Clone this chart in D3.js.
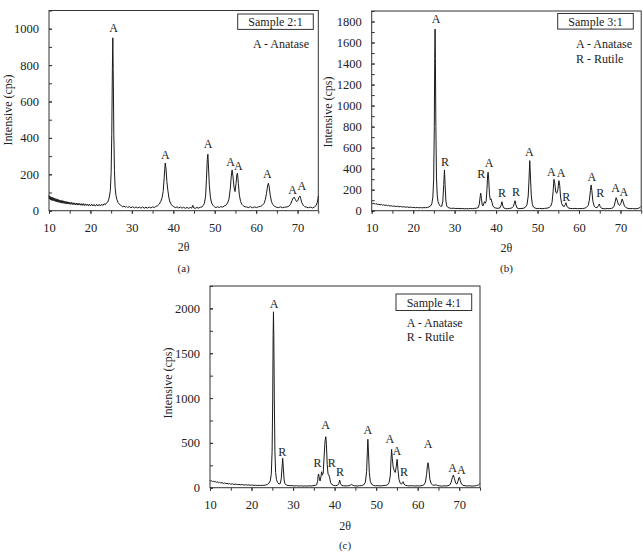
<!DOCTYPE html>
<html>
<head>
<meta charset="utf-8">
<script src="https://cdn.jsdelivr.net/npm/d3@7"></script>
<style>
  body { margin: 0; background: #fff; }
  svg text { font-family: "Liberation Serif", "Times New Roman", serif; fill: #222; }
</style>
</head>
<body>
<svg id="svg" width="643" height="553"></svg>
<script>
// X-ray diffraction patterns, [2theta, cps]
const patternA = [[10.0,84],[10.1,64],[10.25,79],[10.4,60],[10.5,76],[10.65,57],[10.8,73],[10.95,55],[11.1,71],[11.25,53],[11.4,68],[11.55,51],[11.7,66],[11.85,49],[12.0,63],[12.15,47],[12.3,61],[12.45,45],[12.6,59],[12.75,44],[12.9,57],[13.05,42],[13.2,56],[13.35,41],[13.5,54],[13.65,40],[13.8,52],[13.95,39],[14.1,51],[14.25,38],[14.4,49],[14.55,37],[14.7,48],[14.85,36],[15.0,47],[15.2,35],[15.4,46],[15.6,34],[15.8,44],[16.0,33],[16.2,43],[16.4,32],[16.6,42],[16.8,31],[17.0,41],[17.2,31],[17.4,40],[17.6,30],[17.8,39],[18.0,29],[18.25,39],[18.5,28],[18.75,38],[19.0,28],[19.25,37],[19.5,27],[19.75,36],[20.0,26],[20.3,36],[20.6,26],[20.9,35],[21.2,25],[21.5,35],[21.8,26],[22.1,35],[22.4,26],[22.7,36],[23.0,28],[23.3,38],[23.6,33],[23.9,44],[24.2,48],[24.5,68],[24.8,110],[25.0,210],[25.15,420],[25.3,780],[25.4,950],[25.5,770],[25.65,420],[25.8,220],[25.95,130],[26.15,85],[26.4,60],[26.65,46],[26.9,38],[27.2,31],[27.5,27],[27.8,21],[28.1,26],[28.4,19],[28.7,24],[29.0,17],[29.4,23],[29.8,16],[30.2,22],[30.6,15],[31.0,21],[31.4,15],[31.8,20],[32.2,14],[32.6,20],[33.0,14],[33.4,19],[33.8,14],[34.2,20],[34.6,15],[35.0,21],[35.4,17],[35.8,24],[36.2,27],[36.6,36],[37.0,52],[37.3,72],[37.55,105],[37.8,180],[38.05,262],[38.25,230],[38.45,160],[38.7,110],[38.95,70],[39.2,48],[39.5,35],[39.8,26],[40.1,22],[40.5,17],[40.9,21],[41.3,15],[41.7,20],[42.1,14],[42.5,19],[42.9,13],[43.3,18],[43.7,13],[44.1,18],[44.45,14],[44.7,30],[44.95,15],[45.3,13],[45.7,18],[46.1,14],[46.5,19],[46.9,20],[47.2,28],[47.5,40],[47.8,80],[48.0,170],[48.2,280],[48.35,310],[48.5,240],[48.7,140],[48.95,75],[49.25,42],[49.55,30],[49.9,22],[50.3,17],[50.7,22],[51.1,17],[51.5,23],[51.9,19],[52.3,26],[52.7,30],[53.1,42],[53.45,65],[53.75,120],[54.0,190],[54.2,224],[54.4,190],[54.65,130],[54.9,105],[55.15,150],[55.35,200],[55.5,206],[55.7,150],[55.95,85],[56.25,50],[56.55,35],[56.9,27],[57.3,21],[57.7,21],[58.1,17],[58.6,22],[59.1,16],[59.6,21],[60.1,17],[60.6,22],[61.1,24],[61.5,30],[61.9,40],[62.2,60],[62.5,95],[62.75,135],[62.95,151],[63.15,130],[63.4,85],[63.7,50],[64.0,34],[64.4,25],[64.9,19],[65.4,17],[65.9,21],[66.4,16],[66.9,20],[67.4,20],[67.9,25],[68.3,35],[68.65,55],[68.95,70],[69.2,74],[69.45,62],[69.75,50],[70.05,55],[70.3,72],[70.55,81],[70.75,68],[71.0,45],[71.35,30],[71.7,22],[72.1,20],[72.6,16],[73.1,20],[73.6,15],[74.1,21],[74.45,28],[74.75,45],[74.92,65],[75.0,80]];

const patternB = [[10.0,75],[10.2,66],[10.4,72],[10.6,63],[10.8,69],[11.0,61],[11.25,66],[11.5,58],[11.75,63],[12.0,55],[12.3,60],[12.6,52],[12.9,57],[13.2,49],[13.5,54],[13.8,47],[14.1,51],[14.4,44],[14.7,48],[15.0,42],[15.4,45],[15.8,39],[16.2,43],[16.6,37],[17.0,40],[17.4,35],[17.8,38],[18.2,33],[18.6,36],[19.0,31],[19.4,34],[19.8,30],[20.2,32],[20.6,28],[21.0,31],[21.4,27],[21.8,30],[22.2,27],[22.6,30],[23.0,28],[23.4,31],[23.8,35],[24.2,45],[24.5,65],[24.75,130],[24.95,300],[25.1,800],[25.2,1450],[25.28,1728],[25.36,1450],[25.48,800],[25.62,320],[25.8,150],[26.0,85],[26.3,55],[26.6,42],[26.9,42],[27.15,90],[27.38,250],[27.55,388],[27.7,250],[27.9,90],[28.1,45],[28.4,30],[28.8,25],[29.3,22],[29.8,24],[30.3,20],[30.8,22],[31.3,19],[31.8,21],[32.3,18],[32.8,20],[33.3,18],[33.8,21],[34.3,19],[34.8,22],[35.3,24],[35.7,30],[35.95,60],[36.15,130],[36.3,166],[36.45,120],[36.65,55],[36.85,45],[37.05,70],[37.2,86],[37.4,70],[37.6,90],[37.8,200],[37.95,330],[38.08,366],[38.22,300],[38.4,160],[38.6,105],[38.8,112],[39.0,80],[39.25,45],[39.55,30],[39.95,25],[40.45,22],[40.95,28],[41.2,50],[41.42,86],[41.62,45],[41.9,25],[42.3,20],[42.8,19],[43.3,22],[43.8,26],[44.15,40],[44.4,70],[44.58,95],[44.78,55],[45.05,26],[45.5,19],[46.0,21],[46.5,22],[47.0,30],[47.45,55],[47.75,140],[47.98,330],[48.12,476],[48.28,330],[48.5,140],[48.75,60],[49.0,35],[49.4,25],[49.9,20],[50.5,22],[51.1,19],[51.7,22],[52.3,24],[52.8,30],[53.2,45],[53.5,80],[53.75,180],[53.95,299],[54.15,260],[54.4,175],[54.65,166],[54.9,200],[55.15,286],[55.35,240],[55.55,130],[55.8,70],[56.1,45],[56.45,40],[56.7,60],[56.85,76],[57.05,45],[57.35,28],[57.8,22],[58.4,20],[59.0,22],[59.6,19],[60.2,21],[60.8,20],[61.4,24],[61.8,32],[62.2,50],[62.5,100],[62.75,190],[62.92,245],[63.1,190],[63.35,90],[63.65,45],[64.0,30],[64.4,30],[64.7,50],[64.9,64],[65.1,40],[65.4,24],[65.8,20],[66.3,18],[66.8,21],[67.3,19],[67.8,22],[68.2,28],[68.5,45],[68.75,90],[68.95,124],[69.2,100],[69.5,60],[69.8,50],[70.1,70],[70.4,111],[70.65,85],[70.95,45],[71.3,30],[71.8,22],[72.3,19],[72.9,21],[73.5,18],[74.0,20],[74.4,24],[74.7,30],[74.9,38],[75.0,42]];

const patternC = [[10.0,82],[10.2,72],[10.4,78],[10.6,68],[10.8,74],[11.0,64],[11.25,70],[11.5,60],[11.75,65],[12.0,56],[12.3,61],[12.6,52],[12.9,57],[13.2,48],[13.5,53],[13.8,45],[14.1,49],[14.4,42],[14.7,46],[15.0,39],[15.4,43],[15.8,36],[16.2,40],[16.6,34],[17.0,37],[17.4,32],[17.8,35],[18.2,30],[18.6,33],[19.0,28],[19.4,31],[19.8,27],[20.2,30],[20.6,25],[21.0,28],[21.4,24],[21.8,27],[22.2,24],[22.6,27],[23.0,26],[23.4,30],[23.8,36],[24.2,50],[24.5,75],[24.75,150],[24.95,400],[25.1,1000],[25.2,1700],[25.28,1962],[25.36,1700],[25.48,1000],[25.63,400],[25.8,170],[26.0,90],[26.3,55],[26.6,42],[26.9,45],[27.15,100],[27.35,230],[27.5,328],[27.65,220],[27.85,85],[28.05,45],[28.35,30],[28.8,25],[29.3,22],[29.8,24],[30.3,20],[30.8,22],[31.3,19],[31.8,21],[32.3,18],[32.8,20],[33.3,18],[33.8,21],[34.3,19],[34.8,22],[35.3,25],[35.65,32],[35.9,70],[36.05,140],[36.15,153],[36.3,110],[36.5,75],[36.7,120],[36.88,178],[37.05,140],[37.25,160],[37.45,330],[37.7,520],[37.88,569],[38.03,480],[38.22,260],[38.42,150],[38.62,142],[38.82,110],[39.05,55],[39.35,35],[39.7,27],[40.2,23],[40.7,26],[41.0,45],[41.22,86],[41.42,45],[41.7,25],[42.2,21],[42.8,20],[43.4,23],[43.9,30],[44.1,38],[44.35,28],[44.8,21],[45.4,19],[46.0,22],[46.5,24],[47.0,32],[47.4,60],[47.7,180],[47.88,400],[48.0,540],[48.15,400],[48.35,170],[48.6,70],[48.9,38],[49.3,26],[49.8,21],[50.4,23],[51.0,20],[51.6,23],[52.2,25],[52.7,32],[53.1,55],[53.4,130],[53.6,330],[53.72,428],[53.88,330],[54.1,230],[54.35,190],[54.6,170],[54.85,240],[55.05,317],[55.25,200],[55.5,90],[55.8,50],[56.1,40],[56.35,55],[56.5,67],[56.7,40],[57.0,28],[57.5,22],[58.1,20],[58.7,22],[59.3,19],[59.9,21],[60.5,20],[61.1,24],[61.5,32],[61.85,60],[62.15,150],[62.35,250],[62.5,279],[62.68,220],[62.95,90],[63.25,45],[63.6,30],[64.0,28],[64.4,32],[64.8,24],[65.3,20],[65.8,18],[66.3,21],[66.8,19],[67.3,22],[67.7,30],[68.05,60],[68.35,115],[68.6,142],[68.85,100],[69.15,50],[69.45,40],[69.7,70],[69.9,110],[70.05,116],[70.25,80],[70.55,40],[70.9,27],[71.4,22],[71.9,19],[72.5,21],[73.1,18],[73.7,20],[74.2,24],[74.6,30],[74.85,40],[75.0,48]];

// peak labels [2theta, cps of label baseline, phase]
const labelsA = [[25.6,981,"A"],[38.1,283,"A"],[48.4,343,"A"],[53.8,243,"A"],[55.7,224,"A"],[62.7,178,"A"],[68.8,90,"A"],[71.0,114,"A"]];
const labelsB = [[25.5,1783,"A"],[27.7,421,"R"],[36.4,311,"R"],[38.3,419,"A"],[41.4,128,"R"],[44.8,143,"R"],[48.0,524,"A"],[53.3,333,"A"],[55.7,318,"A"],[56.9,95,"R"],[63.1,280,"A"],[65.1,128,"R"],[68.8,181,"A"],[70.8,143,"A"]];
const labelsC = [[25.4,2009,"A"],[27.4,357,"R"],[35.9,227,"R"],[37.8,654,"A"],[39.3,227,"R"],[41.3,127,"R"],[48.0,599,"A"],[53.3,498,"A"],[55.0,368,"A"],[56.7,127,"R"],[62.5,443,"A"],[68.4,172,"A"],[70.5,153,"A"]];

// ticks
const xTicks = [10, 20, 30, 40, 50, 60, 70];
const xMinor = [10, 15, 20, 25, 30, 35, 40, 45, 50, 55, 60, 65, 70, 75];
const yTicksA = [0, 200, 400, 600, 800, 1000];
const yTicksB = [0, 200, 400, 600, 800, 1000, 1200, 1400, 1600, 1800];
const yTicksC = [0, 500, 1000, 1500, 2000];
const yMinorA = [0, 100, 200, 300, 400, 500, 600, 700, 800, 900, 1000, 1100];
const yMinorB = [0, 100, 200, 300, 400, 500, 600, 700, 800, 900, 1000, 1100, 1200, 1300, 1400, 1500, 1600, 1700, 1800, 1900];
const yMinorC = [0, 250, 500, 750, 1000, 1250, 1500, 1750, 2000, 2250];

const samples = ["Sample 2:1", "Sample 3:1", "Sample 4:1"];
const captions = ["(a)", "(b)", "(c)"];

const FONT = "'Liberation Serif', 'Times New Roman', serif";

// layout of the three panels (pixels)
const panels = [
  {data: patternA, labels: labelsA, yTicks: yTicksA, yMinor: yMinorA, yMax: 1100,
   left: 49, right: 318.3, top: 10.5, bottom: 210.7,
   box: [237.7, 14, 75.6, 15.4], legendX: 253, legendY: 48, legend: ["A - Anatase"],
   yLabelX: 12, yLabelY: 110, sample: samples[0], caption: captions[0], axisTitleY: 251, captionY: 272},
  {data: patternB, labels: labelsB, yTicks: yTicksB, yMinor: yMinorB, yMax: 1900,
   left: 371.7, right: 641.2, top: 11, bottom: 210.7,
   box: [557.7, 13.5, 75.6, 15.6], legendX: 576, legendY: 48, legend: ["A - Anatase", "R - Rutile"],
   yLabelX: 332, yLabelY: 112, sample: samples[1], caption: captions[1], axisTitleY: 252, captionY: 272},
  {data: patternC, labels: labelsC, yTicks: yTicksC, yMinor: yMinorC, yMax: 2250,
   left: 210, right: 480, top: 286, bottom: 487.7,
   box: [396, 294, 75.7, 16.5], legendX: 406.7, legendY: 326.5, legend: ["A - Anatase", "R - Rutile"],
   yLabelX: 172, yLabelY: 383, sample: samples[2], caption: captions[2], axisTitleY: 530, captionY: 549}
];

const svg = d3.select("#svg").attr("font-family", FONT);

panels.forEach(p => {
  const x = d3.scaleLinear().domain([10, 75]).range([p.left, p.right]);
  const y = d3.scaleLinear().domain([0, p.yMax]).range([p.bottom, p.top]);
  const g = svg.append("g");

  // minor ticks
  g.append("g")
    .attr("transform", `translate(${p.left},0)`)
    .call(d3.axisLeft(y).tickValues(p.yMinor).tickSize(-3).tickSizeOuter(0).tickFormat(""))
    .call(a => a.select(".domain").remove());
  g.append("g")
    .attr("transform", `translate(0,${p.bottom})`)
    .call(d3.axisBottom(x).tickValues(xMinor).tickSize(3).tickSizeOuter(0).tickFormat(""))
    .call(a => a.select(".domain").remove());

  // labelled ticks
  g.append("g")
    .attr("transform", `translate(${p.left},0)`)
    .attr("font-family", FONT).attr("font-size", 12.5)
    .call(d3.axisLeft(y).tickValues(p.yTicks).tickSize(-3).tickSizeOuter(0).tickPadding(10).tickFormat(d3.format("d")))
    .call(a => a.select(".domain").remove());
  g.append("g")
    .attr("transform", `translate(0,${p.bottom})`)
    .attr("font-family", FONT).attr("font-size", 12.5)
    .call(d3.axisBottom(x).tickValues(xTicks).tickSize(3).tickSizeOuter(0).tickPadding(9).tickFormat(d3.format("d")))
    .call(a => a.select(".domain").remove());
  g.selectAll("g").attr("font-family", FONT);
  g.selectAll(".tick text").attr("fill", "#222").attr("font-size", 12.5);
  g.selectAll(".tick line").attr("stroke", "#333");

  // frame
  g.append("rect")
    .attr("x", p.left).attr("y", p.top)
    .attr("width", p.right - p.left).attr("height", p.bottom - p.top)
    .attr("fill", "none").attr("stroke", "#333").attr("stroke-width", 1);

  // pattern
  const line = d3.line().x(d => x(d[0])).y(d => y(d[1]));
  g.append("path")
    .attr("d", line(p.data))
    .attr("fill", "none")
    .attr("stroke", "#1a1a1a")
    .attr("stroke-width", 1)
    .attr("stroke-linejoin", "round");

  // peak letters
  g.selectAll(".peak")
    .data(p.labels)
    .enter().append("text")
    .attr("x", d => x(d[0]))
    .attr("y", d => y(d[1]))
    .attr("text-anchor", "middle")
    .attr("font-size", 12)
    .text(d => d[2]);

  // sample box
  g.append("rect")
    .attr("x", p.box[0]).attr("y", p.box[1])
    .attr("width", p.box[2]).attr("height", p.box[3])
    .attr("fill", "#fff").attr("stroke", "#333").attr("stroke-width", 1);
  g.append("text")
    .attr("x", p.box[0] + p.box[2] / 2)
    .attr("y", p.box[1] + p.box[3] / 2 + 4.3)
    .attr("text-anchor", "middle")
    .attr("font-size", 12)
    .text(p.sample);

  // legend lines
  g.selectAll(".leg")
    .data(p.legend)
    .enter().append("text")
    .attr("x", p.legendX)
    .attr("y", (d, i) => p.legendY + i * 14.7)
    .attr("font-size", 12)
    .text(d => d);

  // axis titles
  g.append("text")
    .attr("transform", `translate(${p.yLabelX},${p.yLabelY}) rotate(-90)`)
    .attr("text-anchor", "middle")
    .attr("font-size", 12)
    .text("Intensive (cps)");
  g.append("text")
    .attr("x", (p.left + p.right) / 2)
    .attr("y", p.axisTitleY)
    .attr("text-anchor", "middle")
    .attr("font-size", 12)
    .text("2θ");
  g.append("text")
    .attr("x", (p.left + p.right) / 2)
    .attr("y", p.captionY)
    .attr("text-anchor", "middle")
    .attr("font-size", 11)
    .text(p.caption);
});
</script>
</body>
</html>
